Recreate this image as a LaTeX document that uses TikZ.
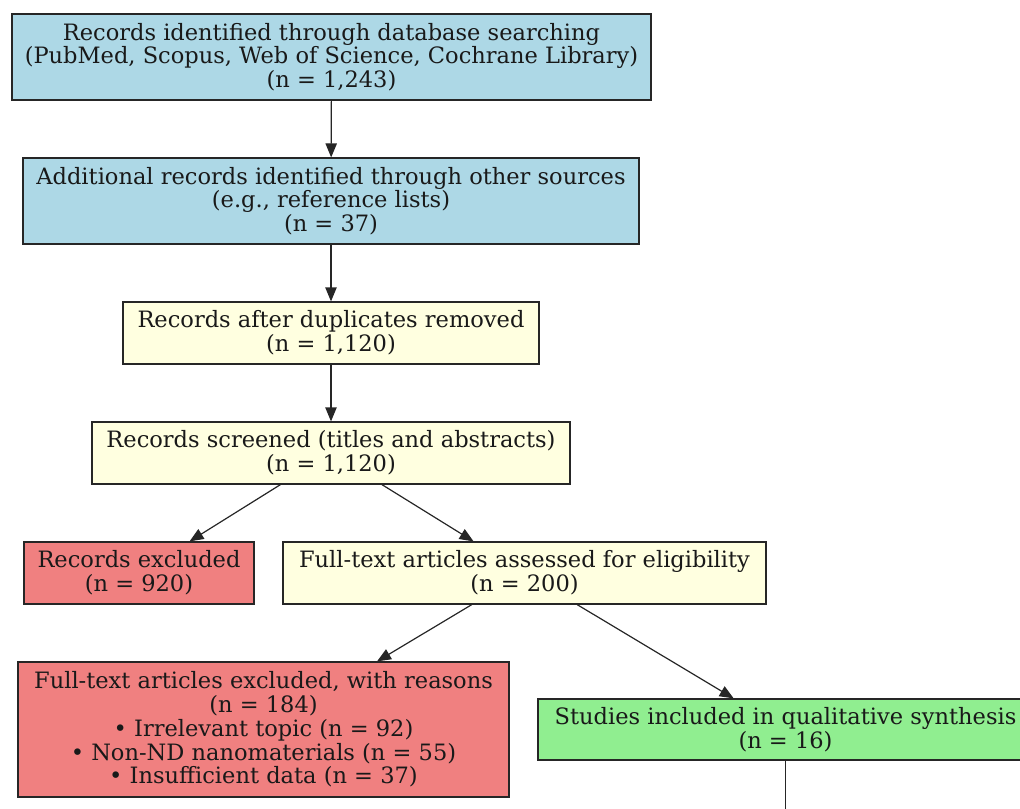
\documentclass[tikz,border=0pt]{standalone}
\usepackage{fontspec}
\setmainfont{DejaVu Serif}
\usetikzlibrary{arrows.meta}
\definecolor{lblue}{HTML}{ADD8E6}
\definecolor{lyellow}{HTML}{FFFFE0}
\definecolor{lcoral}{HTML}{F08080}
\definecolor{lgreen}{HTML}{90EE90}
\begin{document}
\begin{tikzpicture}[x=0.75pt,y=-0.75pt,
  box/.style={draw=black!85, line width=0.9pt, inner sep=0pt, align=center,
    font=\fontsize{16.9pt}{17.8pt}\selectfont, text=black!90},
  conn/.style={draw=black!85, line width=0.9pt, -{Triangle[length=10.5pt,width=8.5pt]}}]
\useasboundingbox (0,0) rectangle (1020,809);
\clip (0,0) rectangle (1020,809);
\node[box, fill=lblue, minimum width=479.25pt, minimum height=64.5pt] (a) at (331.5,57)
  {Records identified through database searching\\(PubMed, Scopus, Web of Science, Cochrane Library)\\(n = 1,243)};
\node[box, fill=lblue, minimum width=462pt, minimum height=64.5pt] (b) at (331,201)
  {Additional records identified through other sources\\(e.g., reference lists)\\(n = 37)};
\node[box, fill=lyellow, minimum width=312pt, minimum height=46.5pt] (c) at (331,333)
  {Records after duplicates removed\\(n = 1,120)};
\node[box, fill=lyellow, minimum width=358.5pt, minimum height=46.5pt] (d) at (331,453)
  {Records screened (titles and abstracts)\\(n = 1,120)};
\node[box, fill=lcoral, minimum width=172.5pt, minimum height=46.5pt] (e) at (139,573)
  {Records excluded\\(n = 920)};
\node[box, fill=lyellow, minimum width=362.25pt, minimum height=46.5pt] (f) at (524.5,573)
  {Full-text articles assessed for eligibility\\(n = 200)};
\node[box, fill=lcoral, minimum width=368.25pt, minimum height=101.25pt] (g) at (263.5,729.5)
  {Full-text articles excluded, with reasons\\(n = 184)\\• Irrelevant topic (n = 92)\\• Non-ND nanomaterials (n = 55)\\• Insufficient data (n = 37)};
\node[box, fill=lgreen, minimum width=371.25pt, minimum height=45.75pt] (h) at (785.5,729.5)
  {Studies included in qualitative synthesis\\(n = 16)};
\coordinate (hout) at (785.5,830);
\draw[conn] (a) -- (b);
\draw[conn] (b) -- (c);
\draw[conn] (c) -- (d);
\draw[conn] (d) -- (e);
\draw[conn] (d) -- (f);
\draw[conn] (f) -- (g);
\draw[conn] (f) -- (h);
\draw[draw=black!85, line width=0.9pt] (h) -- (hout);
\end{tikzpicture}
\end{document}
